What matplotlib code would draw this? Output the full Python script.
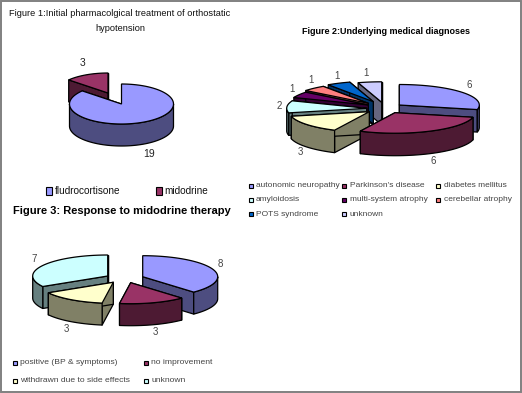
import numpy as np
import matplotlib
matplotlib.use("Agg")
import matplotlib.pyplot as plt
from matplotlib.patches import Polygon, Rectangle

SANS = "Liberation Sans"

# ---- data ----
fig1_labels = ["fludrocortisone", "midodrine"]
fig1_values = [19, 3]
fig2_labels = ["autonomic neuropathy", "Parkinson's disease", "diabetes mellitus", "amyloidosis",
               "multi-system atrophy", "cerebellar atrophy", "POTS syndrome", "unknown"]
fig2_values = [6, 6, 3, 2, 1, 1, 1, 1]
fig3_labels = ["positive (BP & symptoms)", "no improvement", "withdrawn due to side effects", "unknown"]
fig3_values = [8, 3, 3, 7]

tops = ["#9999FF", "#993366", "#FFFFCC", "#CCFFFF", "#660066", "#FF8080", "#0066CC", "#CCCCFF"]
sides = ["#4D4D80", "#4D1A33", "#808066", "#668080", "#330033", "#804040", "#003366", "#666680"]


def arc(cx, cy, rx, ry, a, b):
    t = np.radians(np.linspace(a, b, max(int(abs(b - a)) + 2, 3)))
    return np.column_stack([cx + rx * np.sin(t), cy - ry * np.cos(t)])


def wedge(ax, apex, a, b, rx, ry, depth, top, side):
    cx, cy = apex
    lw = 0.9
    down = np.array([0, depth])
    for ang in (a, b):
        e = arc(cx, cy, rx, ry, ang, ang)[0]
        p = np.array([[cx, cy], e, e + down, [cx, cy + depth]])
        ax.add_patch(Polygon(p, fc=side, ec="black", lw=lw, joinstyle="round"))
    lo, hi = max(a, 90), min(b, 270)
    if hi > lo:
        r = arc(cx, cy, rx, ry, lo, hi)
        ax.add_patch(Polygon(np.vstack([r, r[::-1] + down]), fc=side, ec="black", lw=lw))
    r = arc(cx, cy, rx, ry, a, b)
    ax.add_patch(Polygon(np.vstack([[cx, cy], r]), fc=top, ec="black", lw=lw))


def pie3d(ax, values, apexes, order, rx, ry, depth):
    edges = np.concatenate([[0], np.cumsum(values)]) * 360.0 / sum(values)
    for i in order:
        wedge(ax, apexes[i], edges[i], edges[i + 1], rx, ry, depth, tops[i], sides[i])


def legend(ax, labels, xs, ys, tx, fs, color, w=5, h=5.5):
    for i, (lab, x, y, t) in enumerate(zip(labels, xs, ys, tx)):
        ax.add_patch(Rectangle((x - w / 2, y - h / 2), w, h, fc=tops[i], ec="black", lw=0.8))
        ax.text(t, y, lab, fontsize=fs, family=SANS, color=color, va="center", ha="left")


fig = plt.figure(figsize=(5.22, 3.93), dpi=100, facecolor="white")
ax = fig.add_axes([0, 0, 1, 1])
ax.set_xlim(0, 522)
ax.set_ylim(393, 0)
ax.axis("off")

ax.add_patch(Rectangle((0.7, 0.7), 520.3, 390.8, fc="white", ec="#808080", lw=1.4))

# Figure 1
ax.text(120, 13, "Figure 1:Initial pharmacolgical treatment of orthostatic", fontsize=6.7, family=SANS,
        ha="center", va="center", color="#111111")
ax.text(120, 28.5, "hypotension", fontsize=6.7, family=SANS, ha="center", va="center", color="#111111")
pie3d(ax, fig1_values, [(121.5, 104), (108, 93)], [1, 0], 52, 20, 22)
ax.text(83, 63, str(fig1_values[1]), fontsize=7.5, family=SANS, ha="center", va="center", color="#222222")
ax.text(149, 154, str(fig1_values[0]), fontsize=7.5, family=SANS, ha="center", va="center", color="#222222")
legend(ax, fig1_labels, [49, 159], [191, 191], [55, 164.5], 7.2, "#111111", w=5.5, h=8)

# Figure 2
ax.text(386, 31, "Figure 2:Underlying medical diagnoses", fontsize=6.5, family=SANS, weight="bold",
        ha="center", va="center", color="black")
apex2 = [(399.3, 105), (395, 112.7), (369.3, 111.7), (366.7, 108.3),
         (368.3, 105), (368.3, 103.3), (373.3, 101.7), (381.7, 102.3)]
pie3d(ax, fig2_values, apex2, [7, 6, 5, 4, 3, 0, 2, 1], 80, 20.5, 22.5)
pos2 = [(469, 85), (433, 161), (300, 152), (279, 106), (292, 89), (311, 80), (337, 76), (366, 73)]
for v, (x, y) in zip(fig2_values, pos2):
    ax.text(x, y, str(v), fontsize=7, family=SANS, ha="center", va="center", color="#444444")
xs = [250.7, 344, 438] * 2 + [250.7, 344]
ys = [185.7] * 3 + [199.7] * 3 + [214] * 2
tx = [256, 350, 444] * 2 + [256, 350]
legend(ax, fig2_labels, xs, ys, tx, 6.0, "#444444", w=4.2, h=4.2)

# Figure 3
ax.text(122, 211, "Figure 3: Response to midodrine therapy", fontsize=8, family=SANS, weight="bold",
        ha="center", va="center", color="black")
apex3 = [(142.7, 276.7), (130.7, 282.7), (113.3, 282.3), (107.7, 276)]
pie3d(ax, fig3_values, apex3, [3, 0, 2, 1], 75, 21, 22)
pos3 = [(220, 264), (155, 332), (66, 329), (34, 259)]
for v, (x, y) in zip(fig3_values, pos3):
    ax.text(x, y, str(v), fontsize=7, family=SANS, ha="center", va="center", color="#444444")
legend(ax, fig3_labels, [14.7, 146, 14.7, 146], [363, 363, 380.7, 380.7], [20, 151, 20, 151],
       6.1, "#444444", w=4.2, h=4.2)

fig.savefig("out.png", dpi=100, facecolor="white")
